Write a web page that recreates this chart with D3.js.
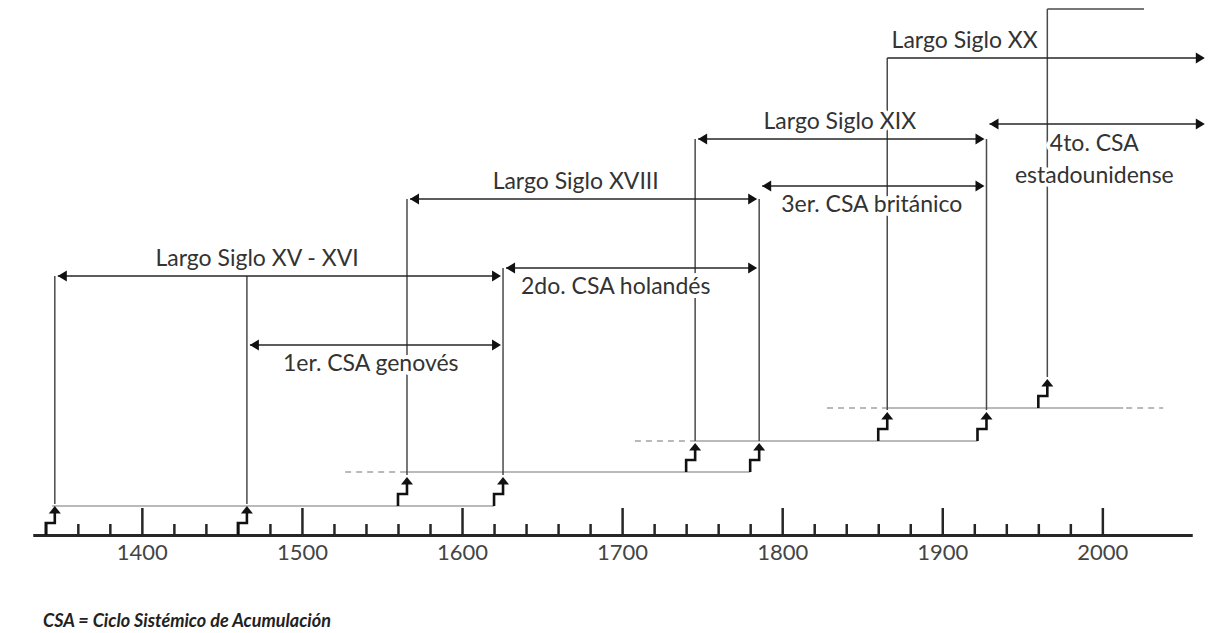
<!DOCTYPE html>
<html><head><meta charset="utf-8">
<script src="https://cdn.jsdelivr.net/npm/d3@7"></script>
<style>body{margin:0;background:#fff}svg{display:block}</style>
</head><body><svg id="c" width="1218" height="633"></svg>
<script>
// ---------- data ----------
const majorTicks = [1400, 1500, 1600, 1700, 1800, 1900, 2000];
const minorTicks = [1340, 1360, 1380, 1420, 1440, 1460, 1480, 1520, 1540, 1560, 1580, 1620, 1640, 1660, 1680,
  1720, 1740, 1760, 1780, 1820, 1840, 1860, 1880, 1920, 1940, 1960, 1980];
const iconYears  = [1340, 1460, 1560, 1620, 1740, 1780, 1860, 1922, 1960];
const iconLevels = [0, 0, 1, 1, 2, 2, 3, 3, 4];
const periodLabels = ["Largo Siglo XV - XVI", "1er. CSA genovés", "Largo Siglo XVIII", "2do. CSA holandés",
  "Largo Siglo XIX", "3er. CSA británico", "Largo Siglo XX", "4to. CSA|estadounidense"];
const periodStart = [1340, 1460, 1560, 1620, 1740, 1780, 1860, 1922];
const periodEnd   = [1620, 1620, 1780, 1780, 1922, 1922, 2064, 2064];
const periodKind  = ["largo", "csa", "largo", "csa", "largo", "csa", "largo", "csa"];
const periodLabelYear = [1472, 1543, 1671, 1696, 1836, 1856, 1914, 1995];
const levelDashStart  = [null, 1527, 1708, 1828];
const levelSolidStart = [1344, 1563, 1743, 1863];
const levelSolidEnd   = [1620, 1780, 1922, 2013];
const levelDashEnd    = [null, null, null, 2038];
const topLineEndYear = 2026;
const footnote = "CSA = Ciclo Sistémico de Acumulación";

// ---------- layout / style ----------
const levelY = [535, 506, 472, 441, 408];
const arrowRowY = [276, 345, 199, 268, 139, 186, 58, 124];
const verticalTopY = [276, 276, 199, 268, 139, 199, 58, 139, 9];
const OFF = 9;
const INK = "#262626", GRAY = "#a3a3a3", VLINE = "#4a4a4a";
const FONT = "Lato, 'Open Sans', sans-serif";

const svg = d3.select("#c");
const x = d3.scaleLinear().domain([1332, 2056]).range([33, 1192]);
const y = d3.scaleOrdinal().domain([0, 1, 2, 3, 4]).range(levelY);

// ---------- axis ----------
const gAxis = svg.append("g").attr("transform", `translate(0,${y(0)})`);
const minorAxis = d3.axisBottom(x).tickValues(minorTicks).tickSizeInner(-11).tickSizeOuter(0).tickFormat("");
const majorAxis = d3.axisBottom(x).tickValues(majorTicks).tickSizeInner(-27).tickSizeOuter(0)
  .tickPadding(9).tickFormat(d3.format("d"));
gAxis.append("g").call(minorAxis);
gAxis.append("g").call(majorAxis);
gAxis.selectAll(".domain").attr("stroke", INK).attr("stroke-width", 3);
gAxis.selectAll(".tick line").attr("stroke", INK).attr("stroke-width", 2.5);
gAxis.selectAll(".tick text").attr("font-family", FONT).attr("font-size", 22).attr("fill", "#444");

// ---------- level lines ----------
const gLevels = svg.append("g").attr("stroke", GRAY).attr("stroke-width", 1.6).attr("fill", "none");
levelSolidStart.forEach((s, i) => {
  const yy = y(i + 1);
  gLevels.append("line").attr("x1", x(s)).attr("x2", x(levelSolidEnd[i])).attr("y1", yy).attr("y2", yy);
  if (levelDashStart[i] != null)
    gLevels.append("line").attr("x1", x(levelDashStart[i])).attr("x2", x(s)).attr("y1", yy).attr("y2", yy)
      .attr("stroke-dasharray", "6,5");
  if (levelDashEnd[i] != null)
    gLevels.append("line").attr("x1", x(levelSolidEnd[i]) + 3).attr("x2", x(levelDashEnd[i])).attr("y1", yy).attr("y2", yy)
      .attr("stroke-dasharray", "6,5");
});

// ---------- vertical lines ----------
const gV = svg.append("g").attr("stroke", VLINE).attr("stroke-width", 1.5);
iconYears.forEach((yr, i) => {
  const vx = x(yr) + OFF;
  const bottom = y(iconLevels[i]) - 31;
  gV.append("line").attr("x1", vx).attr("x2", vx).attr("y1", bottom).attr("y2", verticalTopY[i]);
});
{
  const i = iconYears.length - 1;
  const vx = x(iconYears[i]) + OFF;
  gV.append("line").attr("x1", vx).attr("x2", x(topLineEndYear)).attr("y1", verticalTopY[i]).attr("y2", verticalTopY[i]);
}

// ---------- icons ----------
const gI = svg.append("g");
iconYears.forEach((yr, i) => {
  const bx = x(yr), by = y(iconLevels[i]);
  gI.append("path")
    .attr("d", `M${bx},${by} V${by - 12} H${bx + OFF} V${by - 22}`)
    .attr("fill", "none").attr("stroke", "#111").attr("stroke-width", 2.6).attr("stroke-linejoin", "miter");
  gI.append("path")
    .attr("d", `M${bx + OFF},${by - 29} L${bx + OFF - 6},${by - 21.5} L${bx + OFF + 6},${by - 21.5} Z`)
    .attr("fill", "#111");
});

// ---------- labels ----------
const gT = svg.append("g").attr("font-family", FONT).attr("font-size", 23).attr("fill", "#333")
  .attr("text-anchor", "middle");
periodLabels.forEach((lab, i) => {
  const lines = lab.split("|");
  const ay = arrowRowY[i];
  const t = gT.append("text")
    .attr("x", x(periodLabelYear[i]))
    .attr("y", periodKind[i] === "largo" ? ay - 10 : ay + (lines.length > 1 ? 27 : 26))
    .attr("stroke", "#fff").attr("stroke-width", 8).attr("stroke-linejoin", "round")
    .attr("paint-order", "stroke");
  lines.forEach((ln, j) => {
    t.append("tspan").attr("x", x(periodLabelYear[i])).attr("dy", j === 0 ? 0 : 32).text(ln);
  });
});

// ---------- arrows ----------
const gA = svg.append("g");
function head(px, py, dir) {
  gA.append("path")
    .attr("d", `M${px},${py} L${px - dir * 9},${py - 5.5} L${px - dir * 9},${py + 5.5} Z`)
    .attr("fill", "#111");
}
periodStart.forEach((s, i) => {
  const ay = arrowRowY[i];
  const open = periodEnd[i] > x.domain()[1];
  const right = open ? x(periodEnd[i]) : x(periodEnd[i]) + OFF - 2;
  const noLeftHead = periodKind[i] === "largo" && open;
  const left = noLeftHead ? x(s) + OFF : x(s) + OFF + 3;
  gA.append("line").attr("x1", left).attr("x2", right - 4).attr("y1", ay).attr("y2", ay)
    .attr("stroke", INK).attr("stroke-width", 1.5);
  head(right, ay, 1);
  if (!noLeftHead) head(left, ay, -1);
});

// ---------- footnote ----------
svg.append("text").attr("x", 43).attr("y", 627)
  .attr("font-family", FONT).attr("font-size", 18).attr("font-weight", 700).attr("font-style", "italic")
  .attr("fill", "#222").text(footnote);
</script></body></html>
